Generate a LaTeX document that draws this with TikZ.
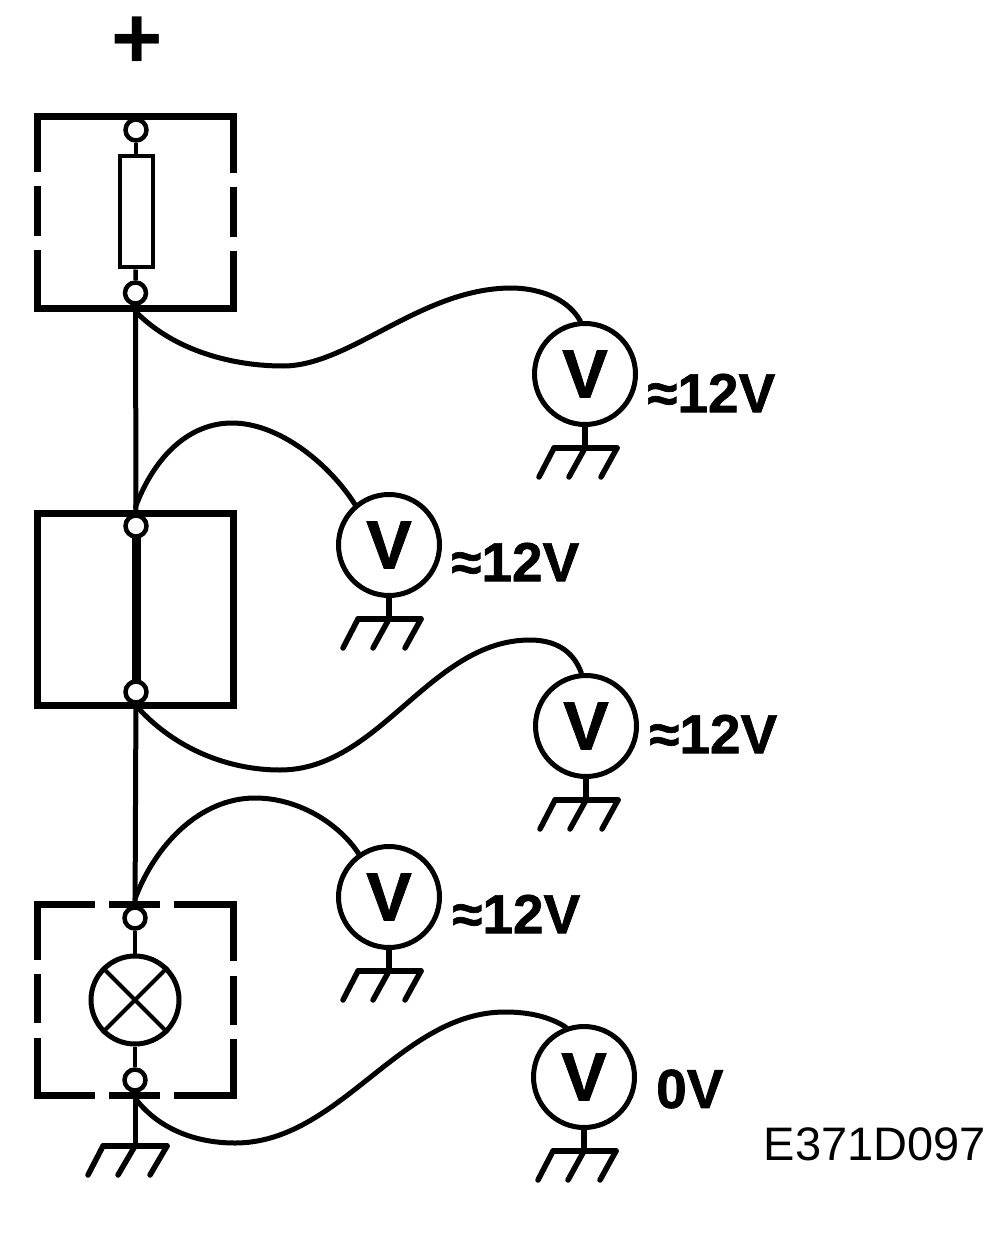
\documentclass[tikz,border=0pt]{standalone}
\usepackage{fontspec}
\setmainfont{Liberation Sans}
\newfontfamily\heavyfont{Liberation Sans Bold}[FakeBold=1.2]
\tikzset{
  wire/.style={line width=5pt,line cap=round},
  curvewire/.style={line width=5pt,line cap=round},
  thinwire/.style={line width=4.5pt},
  boxline/.style={line width=7pt},
  term/.style={circle,draw,line width=4.5pt,fill=white,minimum size=21pt,inner sep=0pt},
  meter/.style={circle,draw,line width=5pt,fill=white,minimum size=101pt,inner sep=0pt,font=\fontsize{68}{68}\heavyfont},
  reading/.style={anchor=west,inner sep=0pt,font=\fontsize{55}{55}\heavyfont},
  code/.style={anchor=east,inner sep=0pt,font=\fontsize{47}{47}\selectfont},
  gnd/.style={line width=5.5pt,line cap=round,line join=miter}
}
\newcommand{\groundat}[2]{%
  \coordinate (#1g) at #2;
  \draw[gnd] (#1g) -- ++(0,21) coordinate (#1b);
  \draw[gnd] ([xshift=-31pt]#1b) -- ([xshift=32pt]#1b);
  \draw[gnd] ([xshift=-31pt]#1b) -- ++(-15,29);
  \draw[gnd] (#1b) -- ++(-16,29);
  \draw[gnd] ([xshift=32pt]#1b) -- ++(-16,29);
}
\newcommand{\vmark}{\raisebox{-4pt}{V}}
\begin{document}
\begin{tikzpicture}[x=1pt,y=-1pt]
\useasboundingbox (0,0) rectangle (1008,1246);
\fill[white] (0,0) rectangle (1008,1246);

\node[inner sep=0pt,font=\fontsize{88}{88}\selectfont\bfseries] (plus) at (137,43) {+};

% top dashed box
\draw[boxline] (37.5,172) -- (37.5,116.5) -- (233.5,116.5) -- (233.5,173);
\draw[boxline] (37.5,186) -- (37.5,236);
\draw[boxline] (233.5,187) -- (233.5,237);
\draw[boxline] (37.5,250) -- (37.5,308.5) -- (233.5,308.5) -- (233.5,251);

% middle solid box
\draw[boxline] (37.5,513.5) rectangle (233.5,705);

% bottom dashed box
\draw[boxline] (95,904) -- (37,904) -- (37,960);
\draw[boxline] (109,904) -- (160,904);
\draw[boxline] (174,904) -- (233.5,904) -- (233.5,961);
\draw[boxline] (37,974) -- (37,1023);
\draw[boxline] (233.5,976) -- (233.5,1025);
\draw[boxline] (37,1038) -- (37,1095) -- (95,1095);
\draw[boxline] (109,1095) -- (160,1095);
\draw[boxline] (174,1095) -- (233.5,1095) -- (233.5,1039);

% main wires
\coordinate (j1) at (135,311);
\coordinate (j2) at (135.5,507);
\coordinate (j3) at (135.5,705);
\coordinate (j4) at (135,899);
\coordinate (j5) at (135,1098);
\draw[wire] (135.5,293) -- (136,526);
\draw[line width=9pt] (136,526) -- (136,692);
\draw[wire] (136,692) -- (135,918);

% terminals
\node[term] (t1) at (136,130) {};
\node[term] (t2) at (135.5,293) {};
\node[term] (t3) at (136,526) {};
\node[term] (t4) at (136,692) {};
\node[term] (t5) at (135,918) {};
\node[term] (t6) at (135,1080) {};

% resistor
\node[draw,line width=4pt,fill=white,minimum width=33pt,minimum height=111pt,inner sep=0pt] (res) at (136,212) {};
\draw[thinwire] (t1) -- (res);
\draw[thinwire] (res) -- (t2);

% lamp
\node[circle,draw,line width=5pt,minimum size=88pt,inner sep=0pt] (lamp) at (135,1000) {};
\draw[line width=4pt] (lamp.45) -- (lamp.225);
\draw[line width=4pt] (lamp.135) -- (lamp.315);
\draw[thinwire] (t5) -- (lamp);
\draw[thinwire] (lamp) -- (t6);

% meters
\node[meter] (m1) at (585,374) {\vmark};
\node[meter] (m2) at (389,545) {\vmark};
\node[meter] (m3) at (586,726) {\vmark};
\node[meter] (m4) at (389,897) {\vmark};
\node[meter] (m5) at (584,1077) {\vmark};

% meter wires
\draw[curvewire] (j1) .. controls (175,352) and (235,366) .. (283,366) .. controls (350,366) and (420,289) .. (510,288) .. controls (545,288) and (570,302) .. (m1.95);
\draw[curvewire] (j2) .. controls (155,455) and (190,423) .. (232,423) .. controls (280,423) and (330,465) .. (m2.130);
\draw[curvewire] (j3) .. controls (175,750) and (230,770) .. (280,770) .. controls (380,770) and (430,640) .. (530,640) .. controls (560,640) and (575,655) .. (m3.95);
\draw[curvewire] (j4) .. controls (155,845) and (200,798) .. (255,798) .. controls (300,798) and (340,825) .. (m4.125);
\draw[curvewire] (j5) .. controls (155,1125) and (190,1143) .. (235,1143) .. controls (340,1143) and (400,1012) .. (505,1012) .. controls (530,1012) and (550,1017) .. (m5.110);

% grounds
\groundat{ga}{(m1.south)}
\groundat{gb}{(m2.south)}
\groundat{gc}{(m3.south)}
\groundat{gd}{(m4.south)}
\groundat{ge}{(m5.south)}
\draw[wire] (j5) -- (135,1146) coordinate (mb);
\draw[gnd] (103,1146) -- (167,1146);
\draw[gnd] (103,1146) -- (88,1175);
\draw[gnd] (mb) -- (118,1175);
\draw[gnd] (167,1146) -- (150,1175);

% readings
\node[reading] (r1) at (647,393) {≈12V};
\node[reading] (r2) at (451,562) {≈12V};
\node[reading] (r3) at (649,734) {≈12V};
\node[reading] (r4) at (452,914) {≈12V};
\node[reading] (r5) at (656,1089) {0V};
\node[code] (c) at (986,1144) {E371D097};
\end{tikzpicture}
\end{document}
